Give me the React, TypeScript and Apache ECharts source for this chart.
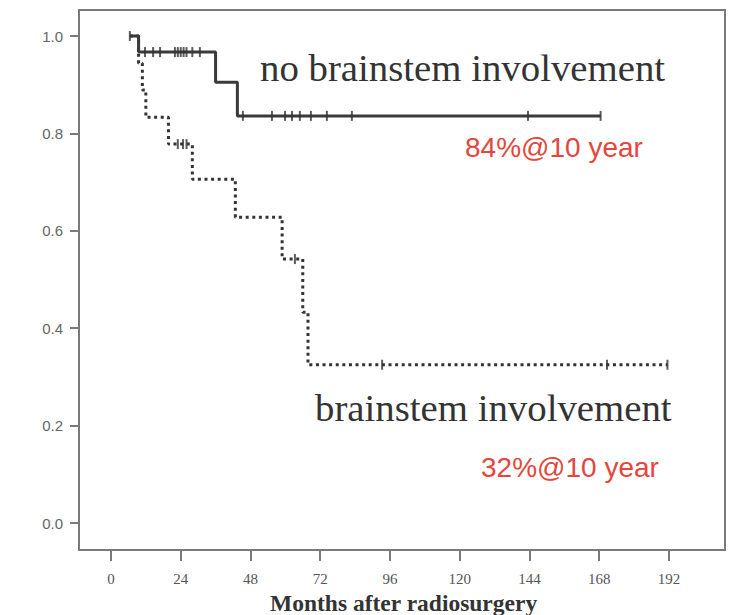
import React, { useEffect, useRef } from "react";
import * as echarts from "echarts";

// Kaplan-Meier steps: [month, survival]
const noBrainstemSteps: number[][] = [
  [6.5, 1.0],
  [9.5, 0.967],
  [36, 0.905],
  [43.5, 0.836],
  [168.5, 0.836],
];
const noBrainstemCensored: number[][] = [
  [6.5, 1.0],
  [11.7, 0.967], [14.5, 0.967], [16.9, 0.967], [22, 0.967], [23, 0.967],
  [24, 0.967], [25, 0.967], [26, 0.967], [28, 0.967], [30.6, 0.967],
  [45.4, 0.836], [55.4, 0.836], [59.9, 0.836], [62.3, 0.836], [65, 0.836],
  [68.8, 0.836], [74.3, 0.836], [82.9, 0.836], [143.5, 0.836], [168.5, 0.836],
];
const brainstemSteps: number[][] = [
  [6.5, 1.0],
  [9.5, 0.944],
  [10.8, 0.889],
  [12, 0.833],
  [19.8, 0.778],
  [28, 0.706],
  [42.8, 0.628],
  [58.9, 0.542],
  [66, 0.433],
  [67.8, 0.325],
  [191.5, 0.325],
];
const brainstemCensored: number[][] = [
  [23, 0.778], [24.8, 0.778], [26, 0.778],
  [63.3, 0.542],
  [93.3, 0.325], [170.7, 0.325], [191.5, 0.325],
];
const xTicks = [0, 24, 48, 72, 96, 120, 144, 168, 192];
const yTicks = [0, 0.2, 0.4, 0.6, 0.8, 1.0];

const labelNo = "no brainstem involvement";
const labelYes = "brainstem involvement";
const rateNo = "84%@10 year";
const rateYes = "32%@10 year";
const xTitle = "Months after radiosurgery";

export default function App() {
  const ref = useRef<HTMLDivElement>(null);
  useEffect(() => {
    if (!ref.current) return;
    const chart = echarts.init(ref.current, null, { renderer: "svg" });
    const frame = "#7a7a7a";
    chart.setOption({
      animation: false,
      backgroundColor: "#ffffff",
      grid: {
        left: 79,
        top: 10,
        width: 646,
        height: 540,
        show: true,
        borderColor: frame,
        borderWidth: 2,
        backgroundColor: "#ffffff",
        outerBoundsMode: "none",
        containLabel: false,
      },
      xAxis: {
        type: "value",
        min: -11,
        max: 211.3,
        splitLine: { show: false },
        axisLine: { show: false, onZero: false },
        axisTick: {
          show: true,
          length: 11,
          lineStyle: { color: frame, width: 2 },
          customValues: xTicks,
        },
        axisLabel: {
          customValues: xTicks,
          margin: 21,
          color: "#555",
          fontFamily: "Liberation Serif",
          fontSize: 15,
        },
      },
      yAxis: {
        type: "value",
        min: -0.0554,
        max: 1.0534,
        splitLine: { show: false },
        axisLine: { show: false, onZero: false },
        axisTick: {
          show: true,
          length: 9,
          lineStyle: { color: frame, width: 2 },
          customValues: yTicks,
        },
        axisLabel: {
          customValues: yTicks,
          margin: 16,
          color: "#666",
          fontFamily: "Liberation Sans",
          fontSize: 15,
          formatter: (v: number) => v.toFixed(1),
        },
      },
      series: [
        {
          type: "line",
          step: "end",
          data: brainstemSteps,
          symbol: "none",
          lineStyle: { color: "#333", width: 3, type: [3, 3.6] },
          z: 2,
        },
        {
          type: "line",
          step: "end",
          data: noBrainstemSteps,
          symbol: "none",
          lineStyle: { color: "#3a3a3a", width: 3, type: "solid" },
          z: 3,
        },
        {
          type: "scatter",
          data: noBrainstemCensored,
          symbol: "rect",
          symbolSize: [2, 10],
          itemStyle: { color: "#333" },
          z: 4,
        },
        {
          type: "scatter",
          data: brainstemCensored,
          symbol: "rect",
          symbolSize: [2, 10],
          itemStyle: { color: "#333" },
          z: 4,
        },
      ],
      graphic: [
        {
          type: "text",
          left: 260,
          top: 48,
          style: {
            text: labelNo,
            font: "38.8px 'Liberation Serif'",
            fill: "#333",
          },
        },
        {
          type: "text",
          left: 315,
          top: 388,
          style: {
            text: labelYes,
            font: "38.8px 'Liberation Serif'",
            fill: "#333",
          },
        },
        {
          type: "text",
          left: 465,
          top: 133,
          style: {
            text: rateNo,
            font: "28px 'Liberation Sans'",
            fill: "#e3463d",
          },
        },
        {
          type: "text",
          left: 481,
          top: 453,
          style: {
            text: rateYes,
            font: "28px 'Liberation Sans'",
            fill: "#e3463d",
          },
        },
        {
          type: "text",
          left: 270,
          top: 591,
          style: {
            text: xTitle,
            font: "bold 23.5px 'Liberation Serif'",
            fill: "#333",
          },
        },
      ],
    });
    return () => chart.dispose();
  }, []);
  return (
    <div
      ref={ref}
      style={{ position: "fixed", left: 0, top: 0, width: 736, height: 615 }}
    />
  );
}
